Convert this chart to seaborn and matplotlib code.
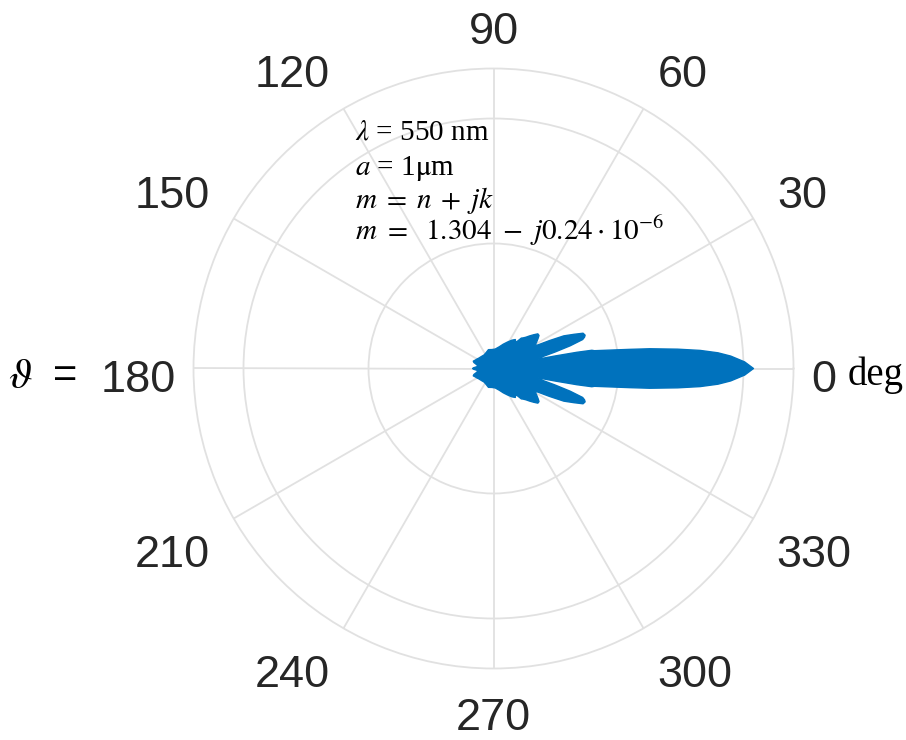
import numpy as np
import pandas as pd
import matplotlib
matplotlib.use("Agg")
import matplotlib.pyplot as plt
import seaborn as sns

# Scattering pattern (normalised, symmetric about the forward direction)
angle_deg = [0, 1.5, 3, 4, 5, 6, 7.2, 8, 9, 10, 10.5, 11, 11.5, 12, 12.5, 13.5,
             15, 16.5, 18, 19, 20, 21.5, 23, 24.9, 26.5, 28, 29.5, 31, 34, 36,
             38, 40, 42, 44, 46, 47.5, 49.5, 51, 53, 57, 62, 68, 75, 85, 95,
             105, 115, 125, 135, 145, 150, 155, 160, 163, 166, 169, 172, 175,
             178, 180]
radius = [1.04, 1.005, 0.95, 0.90, 0.83, 0.74, 0.63, 0.55, 0.47, 0.41, 0.40,
          0.34, 0.25, 0.17, 0.17, 0.20, 0.255, 0.32, 0.375, 0.385, 0.39, 0.385,
          0.35, 0.31, 0.25, 0.20, 0.19, 0.20, 0.215, 0.225, 0.225, 0.21, 0.195,
          0.18, 0.17, 0.165, 0.135, 0.14, 0.145, 0.135, 0.12, 0.105, 0.09,
          0.078, 0.076, 0.078, 0.07, 0.066, 0.068, 0.072, 0.076, 0.08, 0.086,
          0.082, 0.072, 0.066, 0.062, 0.07, 0.08, 0.083]

theta_ticks = [0, 30, 60, 90, 120, 150, 180, 210, 240, 270, 300, 330]
r_rings = [0.5, 1.0]
r_max = 1.2

annotation = [r"$\lambda$ = 550 nm",
              r"$a$ = 1$\mathrm{\mu}$m",
              r"$m\;=\;n\;+\;jk$",
              r"$m\ =\ \ 1.304\ -\ j0.24\cdot 10^{-6}$"]

up = np.array(angle_deg, dtype=float)
rr = np.array(radius, dtype=float)
theta = np.deg2rad(np.concatenate([-up[::-1], up[1:]]))
rad = np.concatenate([rr[::-1], rr[1:]])
df = pd.DataFrame({"theta": theta, "r": rad})

sns.set_theme(style="white")
plt.rcParams["mathtext.fontset"] = "stix"

W, H = 906, 740
fig = plt.figure(figsize=(W / 100, H / 100), dpi=100)
cx, cy, R = 493.5, 371.5, 300.0
ax = fig.add_axes([(cx - R) / W, (cy - R) / H, 2 * R / W, 2 * R / H],
                  projection="polar")

blue = "#0072BD"
grid_c = "#e1e1e1"

ax.fill(df["theta"], df["r"], color=blue, lw=0, zorder=3)
sns.lineplot(data=df, x="theta", y="r", sort=False, color=blue, lw=1.0,
             ax=ax, zorder=4, estimator=None)

ax.set_rlim(0, r_max)
ax.set_rticks(r_rings)
ax.set_yticklabels([])
ax.set_xticks(np.deg2rad(theta_ticks))
ax.set_xticklabels([])
ax.grid(True, color=grid_c, lw=1.3)
ax.spines["polar"].set_color(grid_c)
ax.spines["polar"].set_linewidth(1.3)
ax.set_xlabel("")
ax.set_ylabel("")
ax.set_facecolor("white")


def px(x, y):
    """Pixel position (origin top-left) to figure fraction."""
    return x / W, 1 - y / H


# Angle labels placed just outside the outer ring
digit_h = 32.0
for t in theta_ticks:
    c, s = np.cos(np.deg2rad(t)), np.sin(np.deg2rad(t))
    ha = "center" if abs(c) < 1e-6 else ("left" if c > 0 else "right")
    if abs(s) < 1e-6:
        x = cx + 318 * c
        yb = 392
    elif s > 0:
        x = cx + 328 * c
        yb = cy - 328 * s
    else:
        x = cx + 327 * c
        yb = cy - 327 * s + digit_h
    fig.text(*px(x, yb), str(t), ha=ha, va="baseline", fontsize=32.5,
             color="#262626", family="Liberation Sans")

fig.text(*px(8, 372), r"$\vartheta$", fontsize=31, ha="left",
         va="center_baseline", color="black")
fig.text(*px(53, 372), "=", fontsize=30, ha="left",
         va="center_baseline", color="black", family="Liberation Sans")
fig.text(*px(848, 385), "deg", fontsize=28, ha="left",
         va="baseline", color="black", family="Liberation Serif")

baselines = [140, 175, 208, 240]
for txt, yb in zip(annotation, baselines):
    fig.text(*px(355, yb), txt, fontsize=21, ha="left", va="baseline",
             color="black", family="Liberation Serif")

fig.savefig("out.png", dpi=100, facecolor="white")
